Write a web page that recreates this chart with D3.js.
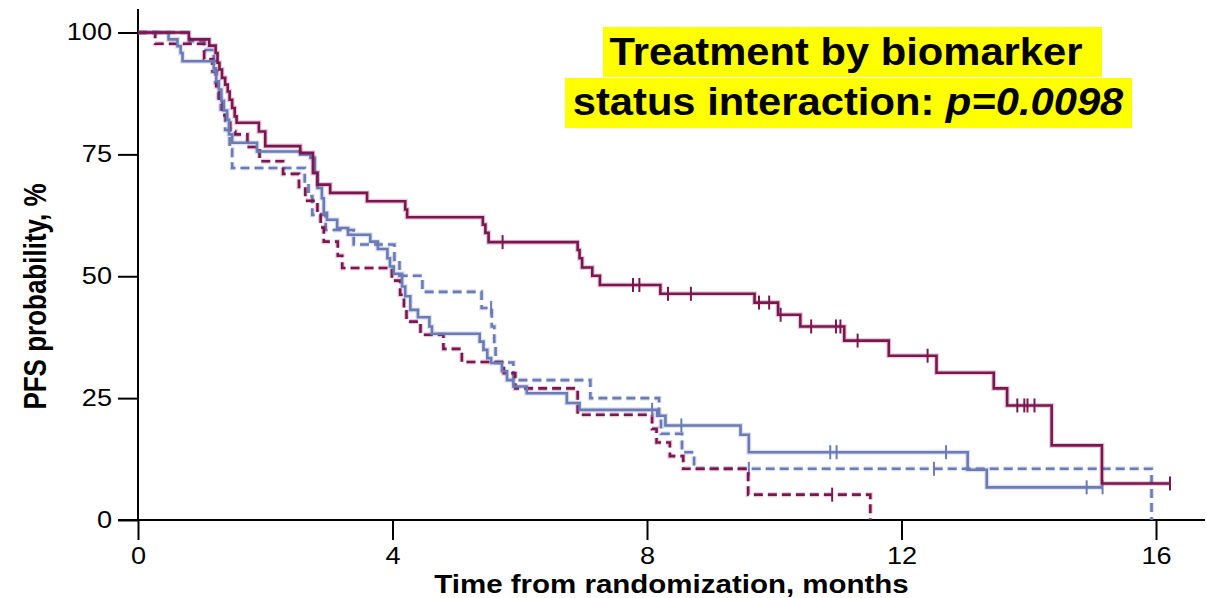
<!DOCTYPE html>
<html>
<head>
<meta charset="utf-8">
<script src="https://cdn.jsdelivr.net/npm/d3@7"></script>
<style>
  body { margin: 0; background: #fff; }
  svg { display: block; font-family: "Liberation Sans", Arial, sans-serif; }
</style>
</head>
<body>
<svg id="chart" width="1207" height="598"></svg>
<script>
// Axis ticks
const xTicks = [0, 4, 8, 12, 16];
const yTicks = [0, 25, 50, 75, 100];

// Kaplan–Meier PFS estimates: event times (months) and survival after each step (%)
const maroonSolidTime = [0, 0.80, 1.12, 1.22, 1.25, 1.28, 1.32, 1.37, 1.41, 1.44, 1.48, 1.52, 1.55, 1.90, 2.00, 2.55, 2.75, 2.82, 3.02, 3.60, 4.20, 4.23, 5.42, 5.46, 5.51, 6.91, 6.94, 6.98, 7.14, 7.26, 8.21, 9.69, 10.06, 10.41, 11.10, 11.80, 12.55, 13.45, 13.66, 14.36, 15.15, 16.22];
const maroonSolidPFS  = [100, 98.6, 97.3, 95.8, 93.8, 92.4, 90.7, 89.3, 87.9, 86.2, 84.5, 82.8, 81.5, 79.7, 76.7, 75.3, 71.2, 68.8, 67.1, 65.4, 63.7, 62.1, 60.6, 58.9, 57.0, 55.4, 53.7, 51.8, 50.1, 48.2, 46.4, 44.6, 42.1, 39.7, 36.8, 33.7, 30.2, 27.0, 23.5, 15.3, 7.5, 7.5];
const maroonSolidCensor = [5.73, 7.78, 7.88, 8.33, 8.69, 9.76, 9.92, 10.10, 10.58, 10.97, 11.04, 11.31, 12.41, 13.82, 13.93, 13.98, 14.09, 16.22];

const maroonDashedTime = [0, 0.27, 1.04, 1.17, 1.23, 1.28, 1.33, 1.39, 1.45, 1.53, 1.72, 1.91, 2.28, 2.53, 2.63, 2.82, 2.87, 2.92, 3.14, 3.21, 3.99, 4.12, 4.18, 4.22, 4.44, 4.80, 5.09, 5.75, 5.93, 6.91, 8.08, 8.15, 8.36, 8.57, 9.59, 11.51];
const maroonDashedPFS  = [100, 97.7, 94.5, 92.0, 89.0, 86.0, 83.0, 81.5, 79.7, 79.1, 76.5, 73.6, 71.0, 68.3, 65.5, 62.6, 60.0, 57.1, 54.2, 51.7, 49.1, 46.2, 43.5, 40.7, 38.0, 35.1, 32.4, 30.1, 27.0, 21.6, 18.7, 15.9, 13.1, 10.5, 5.2, 0];
const maroonDashedCensor = [10.91];

const blueSolidTime = [0, 0.48, 0.62, 0.67, 0.70, 1.19, 1.23, 1.27, 1.31, 1.35, 1.40, 1.43, 1.48, 1.87, 2.55, 2.71, 2.78, 2.82, 2.89, 2.92, 2.97, 3.13, 3.30, 3.65, 3.77, 3.92, 3.96, 4.02, 4.15, 4.20, 4.28, 4.40, 4.58, 4.62, 5.37, 5.43, 5.49, 5.55, 5.72, 5.80, 5.90, 6.11, 6.74, 6.94, 8.16, 8.29, 9.47, 9.60, 13.04, 13.34, 15.16];
const blueSolidPFS  = [100, 98.6, 97.2, 95.8, 94.1, 92.1, 90.0, 88.3, 86.0, 84.0, 82.1, 79.1, 77.4, 75.6, 75.0, 74.3, 71.2, 68.1, 66.0, 63.0, 61.6, 59.9, 58.5, 57.1, 55.6, 53.7, 52.0, 50.5, 47.9, 45.9, 43.1, 41.6, 39.7, 38.2, 36.6, 34.9, 33.2, 32.2, 30.5, 28.7, 27.4, 26.0, 24.0, 22.6, 21.4, 19.4, 17.5, 13.9, 10.3, 6.7, 6.7];
const blueSolidCensor = [8.08, 8.54, 10.88, 10.98, 12.70, 14.91, 15.16];

const blueDashedTime = [0, 0.81, 1.04, 1.19, 1.22, 1.26, 1.30, 1.37, 1.44, 1.48, 2.62, 2.68, 2.74, 2.95, 3.39, 4.03, 4.11, 4.47, 5.40, 5.56, 5.60, 5.62, 5.90, 7.11, 8.19, 8.22, 8.55, 8.74, 15.93];
const blueDashedPFS  = [100, 98.2, 96.4, 94.1, 89.7, 86.5, 84.2, 80.0, 76.0, 72.2, 69.0, 66.4, 62.6, 59.5, 56.5, 53.4, 50.1, 46.8, 43.5, 39.7, 36.0, 32.3, 28.7, 25.0, 21.0, 17.7, 13.9, 10.5, 0];
const blueDashedCensor = [5.55, 9.60, 12.51];

const MAROON = "#7d1650";
const BLUE = "#6a7bb6";

const curves = [
  { time: blueDashedTime,   pfs: blueDashedPFS,   censor: blueDashedCensor,   color: BLUE,   dash: "9,5" },
  { time: maroonDashedTime, pfs: maroonDashedPFS, censor: maroonDashedCensor, color: MAROON, dash: "9,5" },
  { time: blueSolidTime,    pfs: blueSolidPFS,    censor: blueSolidCensor,    color: BLUE,   dash: null },
  { time: maroonSolidTime,  pfs: maroonSolidPFS,  censor: maroonSolidCensor,  color: MAROON, dash: null }
];

const svg = d3.select("#chart");
const SX = 1.18; // horizontal text stretch

const x = d3.scaleLinear().domain([0, 16.77]).range([138, 1205]);
const y = d3.scaleLinear().domain([0, 100]).range([520, 32.5]);

// Axes
const xAxis = svg.append("g")
  .attr("transform", `translate(0,${y(0)})`)
  .call(d3.axisBottom(x).tickValues(xTicks).tickSize(20).tickSizeOuter(0));
xAxis.select(".domain").attr("d", `M${x(0) - 20},0H${x.range()[1]}`);

const yAxis = svg.append("g")
  .attr("transform", `translate(${x(0)},0)`)
  .call(d3.axisLeft(y).tickValues(yTicks).tickSize(20).tickSizeOuter(0));
yAxis.select(".domain").attr("d", `M0,${y(0)}V${y(104.8)}`);

svg.selectAll(".domain, .tick line").attr("stroke", "#000").attr("stroke-width", 2);
svg.selectAll(".tick text").attr("fill", "#000").attr("font-size", 23)
  .attr("font-family", "\"Liberation Sans\", Arial, sans-serif");
xAxis.selectAll(".tick text").attr("transform", `scale(${SX},1)`).attr("dy", null).attr("y", 44);
yAxis.selectAll(".tick text").attr("x", -26 / SX).attr("transform", `scale(${SX},1)`);

// Axis titles
svg.append("text")
  .attr("transform", `translate(${(425 + 918) / 2},593) scale(${SX},1)`)
  .attr("text-anchor", "middle")
  .attr("font-weight", "bold").attr("font-size", 25)
  .text("Time from randomization, months");

svg.append("text")
  .attr("transform", `translate(46,${(178 + 415) / 2}) scale(${SX},1) rotate(-90)`)
  .attr("text-anchor", "middle")
  .attr("font-weight", "bold").attr("font-size", 26)
  .text("PFS probability, %");

// Survival step curves
const line = d3.line()
  .x(d => x(d[0]))
  .y(d => y(d[1]))
  .curve(d3.curveStepAfter);

function pfsAt(c, t) {
  let v = c.pfs[0];
  for (let i = 0; i < c.time.length; i++) if (c.time[i] <= t) v = c.pfs[i];
  return v;
}

curves.forEach(c => {
  const pts = c.time.map((t, i) => [t, c.pfs[i]]);
  // soft halo under each curve
  svg.append("path")
    .attr("d", line(pts))
    .attr("fill", "none")
    .attr("stroke", c.color)
    .attr("stroke-opacity", 0.22)
    .attr("stroke-width", 5)
    .attr("stroke-dasharray", c.dash);
  svg.append("path")
    .attr("d", line(pts))
    .attr("fill", "none")
    .attr("stroke", c.color)
    .attr("stroke-width", 2.6)
    .attr("stroke-dasharray", c.dash);
  svg.append("g").selectAll("line")
    .data(c.censor)
    .join("line")
    .attr("x1", d => x(d)).attr("x2", d => x(d))
    .attr("y1", d => y(pfsAt(c, d)) - 7)
    .attr("y2", d => y(pfsAt(c, d)) + 7)
    .attr("stroke", c.color)
    .attr("stroke-width", 2);
});

// Interaction annotation
svg.append("rect").attr("x", 603).attr("y", 27).attr("width", 499).attr("height", 50).attr("fill", "#ffff00");
svg.append("rect").attr("x", 565).attr("y", 78).attr("width", 567).attr("height", 50).attr("fill", "#ffff00");

svg.append("text")
  .attr("transform", `translate(846,65) scale(1.07,1)`)
  .attr("text-anchor", "middle")
  .attr("font-weight", "bold").attr("font-size", 39)
  .text("Treatment by biomarker");

const t2 = svg.append("text")
  .attr("transform", `translate(848,115) scale(1.07,1)`)
  .attr("text-anchor", "middle")
  .attr("font-weight", "bold").attr("font-size", 39);
t2.append("tspan").text("status interaction: ");
t2.append("tspan").attr("font-style", "italic").text("p=0.0098");
</script>
</body>
</html>
